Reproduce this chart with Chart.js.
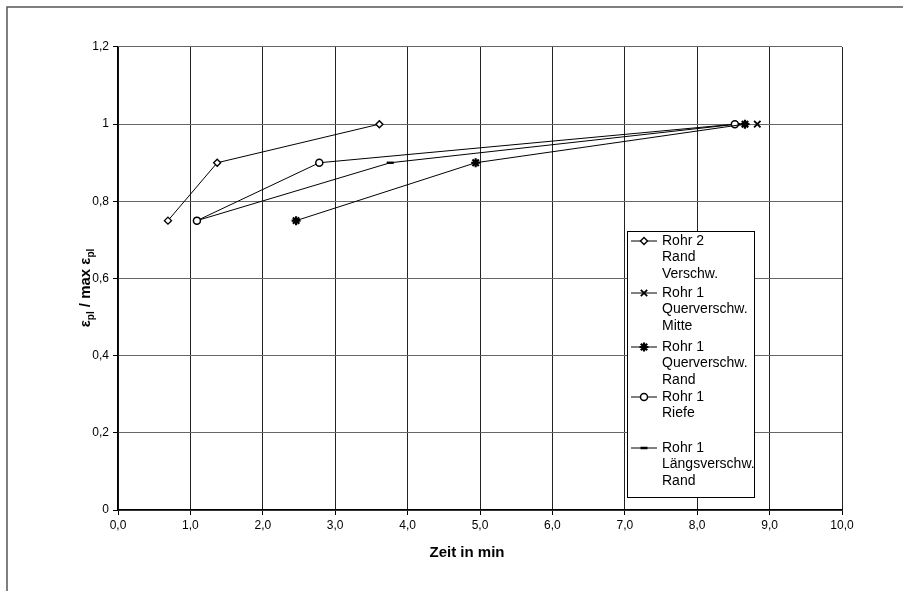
<!DOCTYPE html>
<html><head><meta charset="utf-8">
<script src="https://cdn.jsdelivr.net/npm/chart.js@4/dist/chart.umd.min.js"></script>
<style>html,body{margin:0;padding:0;background:#fff}#wrap{width:903px;height:591px;position:relative}</style>
</head><body><div id="wrap"><canvas id="c" width="903" height="591"></canvas></div>
<script>
// ---- data ----
const xTickLabels = ["0,0","1,0","2,0","3,0","4,0","5,0","6,0","7,0","8,0","9,0","10,0"];
const yTickLabels = ["0","0,2","0,4","0,6","0,8","1","1,2"];
const xAxisTitle = "Zeit in min";

const seriesNames = [
  ["Rohr 2","Rand","Verschw."],
  ["Rohr 1","Querverschw.","Mitte"],
  ["Rohr 1","Querverschw.","Rand"],
  ["Rohr 1","Riefe"],
  ["Rohr 1","Längsverschw.","Rand"]
];
const rohr2RandX      = [0.69, 1.37, 3.61];
const rohr2RandY      = [0.75, 0.90, 1.00];
const querMitteX      = [8.83];
const querMitteY      = [1.00];
const querRandX       = [2.46, 4.94, 8.66];
const querRandY       = [0.75, 0.90, 1.00];
const riefeX          = [1.09, 2.78, 8.52];
const riefeY          = [0.75, 0.90, 1.00];
const laengsX         = [1.09, 3.76, 8.55];
const laengsY         = [0.75, 0.90, 1.00];

const pointStyles = ['rectRot','crossRot','star','circle','line'];
const pointRadii  = [3.5, 4.5, 4.5, 3.5, 3.5];
const pointWidths = [1.4, 1.8, 2.2, 1.5, 2.4];

function toPts(xs, ys){ return xs.map((x,i)=>({x:x, y:ys[i]})); }
const allX = [rohr2RandX, querMitteX, querRandX, riefeX, laengsX];
const allY = [rohr2RandY, querMitteY, querRandY, riefeY, laengsY];

const datasets = allX.map((xs,i)=>({
  label: seriesNames[i].join(' '),
  data: toPts(xs, allY[i]),
  borderColor:'#000', backgroundColor:'#fff',
  borderWidth:1,
  pointStyle: pointStyles[i],
  pointRadius: pointRadii[i],
  pointBorderWidth: pointWidths[i],
  pointBorderColor:'#000',
  pointBackgroundColor:'#fff',
  showLine:true, tension:0, fill:false
}));

const FONT = "'Liberation Sans', Arial, sans-serif";

const decor = {
  id:'decor',
  beforeDraw(chart){
    const ctx = chart.ctx;
    ctx.save();
    ctx.fillStyle='#fff'; ctx.fillRect(0,0,chart.width,chart.height);
    ctx.strokeStyle='#555'; ctx.lineWidth=1.5;
    ctx.beginPath(); ctx.moveTo(7,600); ctx.lineTo(7,7); ctx.lineTo(910,7); ctx.stroke();
    ctx.restore();
  },
  afterDraw(chart){
    const ctx = chart.ctx;
    ctx.save();
    // x title
    ctx.fillStyle='#000';
    ctx.font = "bold 15px " + FONT;
    ctx.textAlign='center'; ctx.textBaseline='middle';
    ctx.fillText(xAxisTitle, 467, 553);
    // y title with subscripts, rotated
    ctx.translate(86, 288);
    ctx.rotate(-Math.PI/2);
    const parts = [["ε",0],["pl",1],[" / max ",0],["ε",0],["pl",1]];
    const fMain = "bold 15px " + FONT, fSub = "bold 10px " + FONT;
    let total = 0;
    parts.forEach(p=>{ ctx.font = p[1]?fSub:fMain; total += ctx.measureText(p[0]).width; });
    let x = -total/2;
    ctx.textAlign='left'; ctx.textBaseline='alphabetic';
    parts.forEach(p=>{ ctx.font = p[1]?fSub:fMain; ctx.fillText(p[0], x, p[1]?8:4); x += ctx.measureText(p[0]).width; });
    ctx.restore();

    // legend
    ctx.save();
    const bx=627.5, by=231.5, bw=127, bh=266;
    ctx.fillStyle='#fff'; ctx.fillRect(bx,by,bw,bh);
    ctx.strokeStyle='#000'; ctx.lineWidth=1; ctx.strokeRect(bx,by,bw,bh);
    ctx.beginPath(); ctx.rect(bx,by,bw,bh); ctx.clip();
    const startY = [241, 293, 347, 397, 448];
    const lh = 16.5;
    ctx.font = "14px " + FONT; ctx.textBaseline='middle'; ctx.textAlign='left';
    seriesNames.forEach((lines,i)=>{
      const y0 = startY[i];
      ctx.strokeStyle='#000'; ctx.lineWidth=1;
      ctx.beginPath(); ctx.moveTo(631,y0); ctx.lineTo(657,y0); ctx.stroke();
      ctx.fillStyle='#fff'; ctx.strokeStyle='#000';
      if (Chart.helpers && Chart.helpers.drawPoint){
        ctx.lineWidth = pointWidths[i];
        Chart.helpers.drawPoint(ctx,{pointStyle:pointStyles[i],radius:pointRadii[i],borderWidth:pointWidths[i],rotation:0},644,y0);
      }
      ctx.fillStyle='#000';
      lines.forEach((t,k)=> ctx.fillText(t, 662, y0 + k*lh));
    });
    ctx.restore();
  }
};

new Chart(document.getElementById('c'), {
  type:'scatter',
  data:{ datasets },
  options:{
    responsive:false, animation:false,
    layout:{ padding:{ left:0, top:47, right:61, bottom:0 } },
    plugins:{ legend:{display:false}, tooltip:{enabled:false}, title:{display:false} },
    scales:{
      x:{
        type:'linear', min:0, max:10,
        afterFit(s){ s.height = 591-510; },
        afterBuildTicks(s){ s.ticks = xTickLabels.map((_,i)=>({value:i})); },
        ticks:{ stepSize:1, color:'#000', font:{family:FONT, size:12}, padding:3, maxRotation:0,
          callback:(v,i)=>xTickLabels[i] },
        grid:{ color:'#222', lineWidth:1, tickLength:5, tickColor:'#000' },
        border:{ display:true, color:'#000', width:1.5 }
      },
      y:{
        type:'linear', min:0, max:1.2,
        afterFit(s){ s.width = 118; },
        afterBuildTicks(s){ s.ticks = yTickLabels.map((_,i)=>({value:i*0.2})); },
        ticks:{ color:'#000', font:{family:FONT, size:12}, padding:4,
          callback:(v,i)=>yTickLabels[i] },
        grid:{ color:'#666', lineWidth:1, tickLength:5, tickColor:'#000' },
        border:{ display:true, color:'#000', width:1.5 }
      }
    }
  },
  plugins:[decor]
});
</script>
</body></html>
